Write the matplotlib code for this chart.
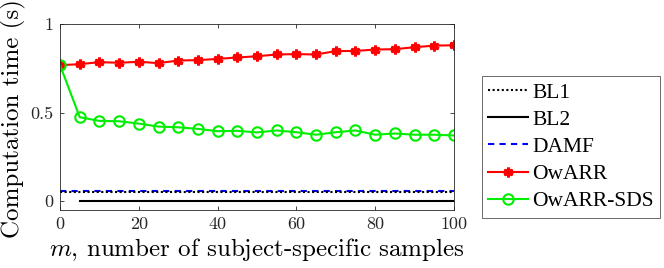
import numpy as np
import matplotlib
matplotlib.use("Agg")
import matplotlib.pyplot as plt

plt.rcParams['font.family'] = ['Liberation Serif', 'DejaVu Serif']
plt.rcParams['mathtext.fontset'] = 'cm'

# data
m = np.arange(0, 101, 5)
owarr = [0.768, 0.773, 0.785, 0.781, 0.787, 0.779, 0.794, 0.796, 0.803, 0.811, 0.818,
         0.828, 0.830, 0.828, 0.847, 0.848, 0.856, 0.858, 0.869, 0.878, 0.880]
owarr_sds = [0.768, 0.474, 0.453, 0.451, 0.438, 0.421, 0.417, 0.408, 0.395, 0.397, 0.388,
             0.399, 0.389, 0.375, 0.389, 0.399, 0.375, 0.382, 0.375, 0.375, 0.371]
bl1 = [0.052] * len(m)
bl2 = [0.002] * (len(m) - 1)
damf = [0.057] * len(m)

fig = plt.figure(figsize=(6.64, 2.68), dpi=100)
ax = fig.add_axes([0.0904, 0.2164, 0.5933, 0.694])

ax.plot(m, damf, color='#0000ff', ls=(0, (3, 2.5)), lw=1.5, label='DAMF')
ax.plot(m, bl1, color='k', ls=(0, (1, 1.2)), lw=1.5, label='BL1')
ax.plot(m[1:], bl2, color='k', ls='-', lw=1.5, label='BL2')
ax.plot(m, owarr, color='#ff0000', lw=1.5, marker=(6, 2, 0), ms=7, mew=2.2, label='OwARR')
ax.plot(m, owarr_sds, color='#00ee00', lw=1.5, marker='o', ms=7.5, mfc='none', mew=1.5,
        label='OwARR-SDS')

ax.set_xlim(0, 100)
ax.set_ylim(-0.05, 1.0)
ax.set_xticks([0, 20, 40, 60, 80, 100])
ax.set_yticks([0, 0.5, 1])
ax.set_yticklabels(['0', '0.5', '1'])
ax.tick_params(direction='in', length=3, width=0.6, top=True, right=True,
               labelsize=13, colors='#262626', pad=5)
for t in ax.get_xticklabels() + ax.get_yticklabels():
    t.set_fontfamily('cmr10')
for s in ax.spines.values():
    s.set_color('#262626')
    s.set_linewidth(0.6)

ax.set_ylabel('Computation time (s)', fontsize=18, fontfamily='cmr10')
ax.yaxis.set_label_coords(-0.087, 0.49)
ax.set_xlabel('$m$, number of subject-specific samples', fontsize=18, labelpad=3,
              fontfamily='cmr10')

h, l = ax.get_legend_handles_labels()
order = [1, 2, 0, 3, 4]
leg = fig.legend([h[i] for i in order], [l[i] for i in order], loc='upper left',
                 bbox_to_anchor=(0.7255, 0.716), fontsize=15.5, frameon=True, fancybox=False,
                 handlelength=1.85, handletextpad=0.2, borderpad=0.3, labelspacing=0.33,
                 borderaxespad=0)
leg.get_frame().set_edgecolor('#262626')
leg.get_frame().set_linewidth(0.6)

fig.savefig('out.png', dpi=100)
